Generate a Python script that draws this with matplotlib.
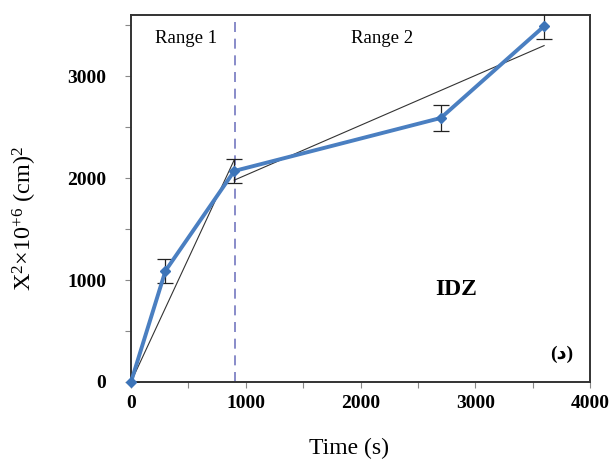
import matplotlib
matplotlib.use("Agg")
import matplotlib.pyplot as plt
from matplotlib.ticker import MultipleLocator

plt.rcParams["font.family"] = ["Liberation Serif", "DejaVu Sans"]
plt.rcParams["mathtext.fontset"] = "custom"
plt.rcParams["mathtext.rm"] = "Liberation Serif"
plt.rcParams["mathtext.it"] = "Liberation Serif:italic"

# measured points (time in s, X^2 in 1e-6 cm^2)
time_s = [0, 300, 900, 2700, 3600]
x2 = [0, 1090, 2070, 2590, 3490]
x2_err = [0, 118, 118, 127, 122]

# linear fits for the two ranges
fit1_t = [0, 900]
fit1_y = [0, 2180]
fit2_t = [900, 3600]
fit2_y = [1980, 3300]

boundary_t = 910

fig = plt.figure(figsize=(6.10, 4.62), dpi=100)
ax = fig.add_axes([131 / 610, 1 - 382 / 462, 459 / 610, 367 / 462])

ax.plot(fit1_t, fit1_y, color="#333333", lw=0.8, zorder=2)
ax.plot(fit2_t, fit2_y, color="#333333", lw=0.8, zorder=2)
ax.axvline(boundary_t, color="#7478c0", lw=1.2, ls=(0, (6, 4)), zorder=1)

ax.errorbar(time_s, x2, yerr=x2_err, fmt="none", ecolor="#222222",
            elinewidth=0.9, capsize=6, capthick=0.9, zorder=3)
ax.plot(time_s, x2, color="#4a7fc1", lw=2.8, marker="D", ms=5,
        mfc="#3c74b8", mec="#3c74b8", zorder=4, clip_on=False)

ax.set_xlim(0, 4000)
ax.set_ylim(0, 3600)
ax.xaxis.set_major_locator(MultipleLocator(1000))
ax.xaxis.set_minor_locator(MultipleLocator(500))
ax.yaxis.set_major_locator(MultipleLocator(1000))
ax.yaxis.set_minor_locator(MultipleLocator(500))
ax.tick_params(which="both", direction="out", length=4, width=0.8,
               color="#888888")
ax.tick_params(axis="x", which="major", pad=5)
ax.tick_params(axis="y", which="major", pad=14)
for lab in ax.get_xticklabels() + ax.get_yticklabels():
    lab.set_fontweight("bold")
    lab.set_fontsize(14)

for sp in ax.spines.values():
    sp.set_color("#333333")
    sp.set_linewidth(1.4)

ax.text(0.121, 0.937, "Range 1", transform=ax.transAxes, ha="center",
        va="center", fontsize=13.5)
ax.text(0.546, 0.937, "Range 2", transform=ax.transAxes, ha="center",
        va="center", fontsize=13.5)
ax.text(0.708, 0.253, "IDZ", transform=ax.transAxes, ha="center",
        va="center", fontsize=17, fontweight="bold")
ax.text(0.939, 0.076, "(د)", transform=ax.transAxes, ha="center",
        va="center", fontsize=14, fontweight="bold",
        family=["Liberation Serif", "DejaVu Sans"])

fig.text(349 / 610, 1 - 448 / 462, "Time (s)", ha="center", va="center",
         fontsize=17)
fig.text(25 / 610, 1 - 218 / 462, r"X$^{2}$×10$^{+6}$ (cm)$^{2}$",
         ha="center", va="center", rotation=90, fontsize=17.5)

fig.savefig("out.png", dpi=100)
